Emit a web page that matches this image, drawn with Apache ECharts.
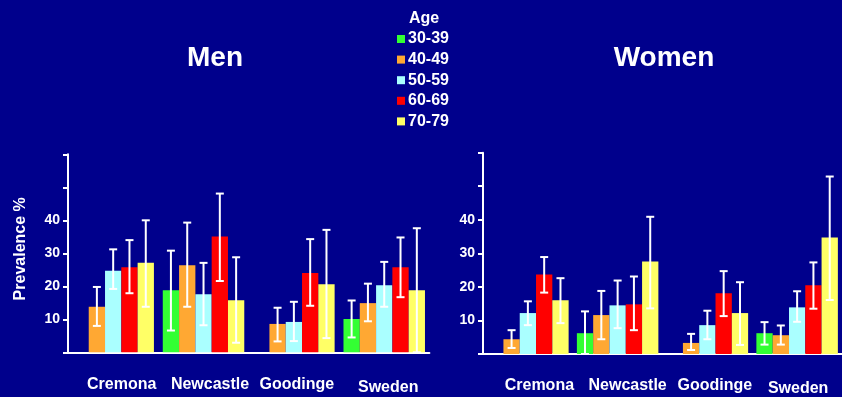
<!DOCTYPE html>
<html>
<head>
<meta charset="utf-8">
<script src="https://cdn.jsdelivr.net/npm/echarts@6/dist/echarts.min.js"></script>
<style>
  html, body { margin: 0; padding: 0; background: #00008C; }
  #chart { width: 842px; height: 397px; }
</style>
</head>
<body>
<div id="chart"></div>
<script>
// Prevalence (%) by study site and age group, with 95% confidence limits
const categories = ['Cremona', 'Newcastle', 'Goodinge', 'Sweden'];
const ageGroups = ['30-39', '40-49', '50-59', '60-69', '70-79'];
const yTicks = [10, 20, 30, 40];

// Men
const men3039 = [null, 18.8, null, 10.1];
const men4049 = [13.8, 26.4, 8.6, 14.9];
const men5059 = [24.7, 17.6, 9.2, 20.3];
const men6069 = [25.8, 35.1, 24.0, 25.8];
const men7079 = [27.1, 15.8, 20.6, 18.8];
const men3039Ci = [null, [6.6, 30.8], null, [4.5, 15.7]];
const men4049Ci = [[8.0, 19.8], [13.8, 39.3], [3.3, 13.5], [9.4, 20.8]];
const men5059Ci = [[19.2, 31.2], [8.2, 27.1], [3.4, 15.3], [13.8, 27.4]];
const men6069Ci = [[17.9, 34.0], [21.6, 48.1], [14.1, 34.3], [16.7, 34.8]];
const men7079Ci = [[13.8, 40.0], [2.9, 28.8], [4.3, 37.1], [0, 37.6]];

// Women
const women3039 = [null, 6.2, null, 6.2];
const women4049 = [4.4, 11.6, 3.3, 5.6];
const women5059 = [12.2, 14.5, 8.6, 13.9];
const women6069 = [23.7, 14.8, 18.1, 20.5];
const women7079 = [16.0, 27.6, 12.2, 34.7];
const women3039Ci = [null, [0, 12.7], null, [2.8, 9.5]];
const women4049Ci = [[1.8, 7.1], [4.4, 18.8], [1.2, 6.0], [2.8, 8.5]];
const women5059Ci = [[8.6, 15.7], [7.7, 21.9], [4.4, 12.9], [9.6, 18.7]];
const women6069Ci = [[18.3, 28.9], [7.1, 23.1], [11.3, 24.7], [13.5, 27.3]];
const women7079Ci = [[9.2, 22.6], [13.6, 40.9], [2.7, 21.4], [16.1, 52.9]];

const menSeries = [men3039, men4049, men5059, men6069, men7079];
const menCi = [men3039Ci, men4049Ci, men5059Ci, men6069Ci, men7079Ci];
const womenSeries = [women3039, women4049, women5059, women6069, women7079];
const womenCi = [women3039Ci, women4049Ci, women5059Ci, women6069Ci, women7079Ci];

const colors = ['#33FF33', '#FFA833', '#AAFFFF', '#FF0000', '#FFFF66'];
const FONT = '"Liberation Sans", Arial, Helvetica, sans-serif';
const BAR_W = 16.3;
const WHITE = '#FFFFFF';

// Horizontal nudge of each site label (left padding, px), per panel
const labelPad = [[17, 13, 6, 8], [23, 20, 15, 2]];

function xAxisFor(gridIndex) {
  const rich = {};
  categories.forEach(function (c, i) {
    rich['c' + i] = {
      color: WHITE, fontFamily: FONT, fontWeight: 'bold', fontSize: 16,
      padding: [i === 3 ? 3 : 0, 0, 0, labelPad[gridIndex][i]]
    };
  });
  return {
    type: 'category', gridIndex: gridIndex, data: categories,
    axisLine: { lineStyle: { color: WHITE, width: 2 } },
    axisTick: { show: false },
    axisLabel: {
      margin: 24, interval: 0,
      formatter: function (v, i) { return '{c' + i + '|' + v + '}'; },
      rich: rich
    }
  };
}

function yAxisFor(gridIndex, withName) {
  const axis = {
    type: 'value', gridIndex: gridIndex, min: 0, max: 60, interval: 10,
    splitLine: { show: false },
    axisLine: { show: true, lineStyle: { color: WHITE, width: 2 } },
    axisTick: { show: true, length: 5, lineStyle: { color: WHITE, width: 2 } },
    axisLabel: {
      margin: 8, color: WHITE, fontFamily: FONT, fontWeight: 'bold', fontSize: 14,
      formatter: function (v) { return yTicks.indexOf(v) >= 0 ? String(v) : ''; }
    }
  };
  if (withName) {
    axis.name = 'Prevalence %';
    axis.nameLocation = 'middle';
    axis.nameRotate = 90;
    axis.nameGap = 39;
    axis.nameTextStyle = {
      color: WHITE, fontFamily: FONT, fontWeight: 'bold', fontSize: 16,
      padding: [0, 0, 0, 9]
    };
  }
  return axis;
}

// Error bar with caps, centred on the k-th bar of the category group
function ciRenderer(k) {
  return function (params, api) {
    const lowPt = api.coord([api.value(0), api.value(1)]);
    const highPt = api.coord([api.value(0), api.value(2)]);
    const x = lowPt[0] + (k - 2) * BAR_W;
    const cap = 4;
    const st = { stroke: WHITE, lineWidth: 2 };
    return {
      type: 'group',
      children: [
        { type: 'line', shape: { x1: x, y1: highPt[1], x2: x, y2: lowPt[1] }, style: st },
        { type: 'line', shape: { x1: x - cap, y1: highPt[1], x2: x + cap, y2: highPt[1] }, style: st },
        { type: 'line', shape: { x1: x - cap, y1: lowPt[1], x2: x + cap, y2: lowPt[1] }, style: st }
      ]
    };
  };
}

function seriesFor(gridIndex, values, cis) {
  const bars = values.map(function (arr, k) {
    return {
      name: ageGroups[k], type: 'bar',
      xAxisIndex: gridIndex, yAxisIndex: gridIndex,
      data: arr, barWidth: BAR_W, barGap: '0%',
      itemStyle: { color: colors[k] },
      silent: true, z: 2
    };
  });
  const errs = cis.map(function (arr, k) {
    const data = [];
    arr.forEach(function (ci, i) { if (ci) data.push([i, ci[0], ci[1]]); });
    return {
      name: ageGroups[k], type: 'custom',
      xAxisIndex: gridIndex, yAxisIndex: gridIndex,
      data: data, renderItem: ciRenderer(k),
      encode: { x: 0, y: [1, 2] },
      itemStyle: { color: colors[k] },
      silent: true, z: 5, clip: false
    };
  });
  return bars.concat(errs);
}

const titleStyle = { color: WHITE, fontFamily: FONT, fontWeight: 'bold', fontSize: 28 };
const shadowText = {
  color: WHITE, fontFamily: FONT, fontWeight: 'bold', fontSize: 16,
  textShadowColor: 'rgba(0,0,0,0.85)', textShadowOffsetX: 1.5, textShadowOffsetY: 1.5, textShadowBlur: 0
};

const option = {
  backgroundColor: '#00008C',
  animation: false,
  title: [
    { text: 'Men', left: 210, top: 39, textAlign: 'center', textStyle: titleStyle },
    { text: 'Women', left: 659, top: 39, textAlign: 'center', textStyle: titleStyle },
    { text: 'Age', left: 419, top: 6, textAlign: 'center', textStyle: shadowText }
  ],
  legend: {
    data: ageGroups,
    orient: 'vertical',
    left: 392, top: 26,
    icon: 'rect', itemWidth: 8, itemHeight: 8, itemGap: 4.6,
    textStyle: Object.assign({ lineHeight: 16, padding: [0, 0, 0, -2] }, shadowText),
    selectedMode: false
  },
  grid: [
    { left: 68, top: 154.3, width: 361.4, height: 198 },
    { left: 483, top: 152.7, width: 361.4, height: 202.3 }
  ],
  xAxis: [xAxisFor(0), xAxisFor(1)],
  yAxis: [yAxisFor(0, true), yAxisFor(1, false)],
  series: seriesFor(0, menSeries, menCi).concat(seriesFor(1, womenSeries, womenCi))
};

const chart = echarts.init(document.getElementById('chart'), null, { renderer: 'canvas' });
chart.setOption(option);
</script>
</body>
</html>
